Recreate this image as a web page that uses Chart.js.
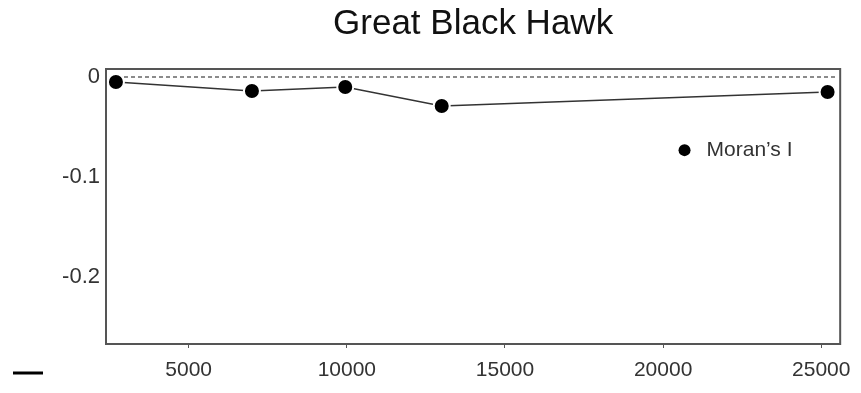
<!DOCTYPE html>
<html>
<head>
<meta charset="utf-8">
<script src="https://cdn.jsdelivr.net/npm/chart.js@4"></script>
<style>
  html, body { margin: 0; padding: 0; background: #fff; }
  #wrap { width: 861px; height: 393px; }
</style>
</head>
<body>
<div id="wrap"><canvas id="hawk"></canvas></div>
<script>
// values
const distances = [2700, 7000, 9950, 13000, 25200];
const moransI = [-0.005, -0.014, -0.010, -0.029, -0.015];
const xTickValues = [5000, 10000, 15000, 20000, 25000];
const yTickValues = [0, -0.1, -0.2];

const fontFamily = '"Liberation Sans", Arial, sans-serif';
const axisGray = '#555';

// frame, zero line, legend and the stray dash at bottom left
const framePlugin = {
  id: 'frame',
  beforeDatasetsDraw(chart) {
    const { ctx, chartArea: a, scales } = chart;
    const y0 = scales.y.getPixelForValue(0);
    ctx.save();
    ctx.strokeStyle = '#666';
    ctx.lineWidth = 1.5;
    ctx.setLineDash([4, 3]);
    ctx.beginPath();
    ctx.moveTo(a.left + 4, y0);
    ctx.lineTo(a.right - 4, y0);
    ctx.stroke();
    ctx.restore();
  },
  afterDraw(chart) {
    const { ctx, chartArea: a } = chart;
    ctx.save();
    ctx.strokeStyle = axisGray;
    ctx.lineWidth = 2;
    ctx.strokeRect(a.left, a.top, a.right - a.left, a.bottom - a.top);

    // legend inside the plot
    const ds = chart.data.datasets[0];
    const lx = a.left + (a.right - a.left) * 0.788;
    const ly = a.top + (a.bottom - a.top) * 0.295;
    ctx.fillStyle = '#000';
    ctx.beginPath();
    ctx.arc(lx, ly, 6, 0, Math.PI * 2);
    ctx.fill();
    ctx.fillStyle = '#333';
    ctx.font = '21px ' + fontFamily;
    ctx.textBaseline = 'middle';
    ctx.fillText(ds.label, lx + 22, ly);

    ctx.strokeStyle = '#000';
    ctx.lineWidth = 3;
    ctx.beginPath();
    ctx.moveTo(13, 373);
    ctx.lineTo(43, 373);
    ctx.stroke();
    ctx.restore();
  }
};

new Chart(document.getElementById('hawk'), {
  type: 'line',
  data: {
    datasets: [{
      label: 'Moran’s I',
      data: distances.map((d, i) => ({ x: d, y: moransI[i] })),
      borderColor: '#333',
      borderWidth: 1.5,
      backgroundColor: '#000',
      pointRadius: 8,
      pointBorderWidth: 2,
      pointBorderColor: '#fff',
      pointBackgroundColor: '#000',
      tension: 0
    }]
  },
  options: {
    responsive: true,
    maintainAspectRatio: false,
    animation: false,
    layout: { padding: { left: 0, right: 18, top: 0, bottom: 0 } },
    plugins: {
      legend: { display: false },
      tooltip: { enabled: false },
      title: {
        display: true,
        text: 'Great Black Hawk',
        fullSize: false,
        color: '#111',
        font: { family: fontFamily, size: 35, weight: 'normal' },
        padding: { top: 3, bottom: 24 }
      }
    },
    scales: {
      x: {
        type: 'linear',
        min: 2386,
        max: 25598,
        afterBuildTicks: s => { s.ticks = xTickValues.map(v => ({ value: v })); },
        afterFit: s => { s.height = 49; },
        grid: { drawOnChartArea: false, drawTicks: true, tickLength: 4, color: axisGray },
        border: { display: false },
        ticks: {
          padding: 10,
          color: '#333',
          maxRotation: 0,
          font: { family: fontFamily, size: 21 },
          callback: v => String(v)
        }
      },
      y: {
        min: -0.267,
        max: 0.008,
        afterBuildTicks: s => { s.ticks = yTickValues.map(v => ({ value: v })); },
        afterFit: s => { s.width = 106; },
        grid: { display: false, drawTicks: false },
        border: { display: false },
        ticks: {
          padding: 6,
          color: '#333',
          font: { family: fontFamily, size: 22 },
          callback: v => String(Math.round(v * 10) / 10)
        }
      }
    }
  },
  plugins: [framePlugin]
});
</script>
</body>
</html>
